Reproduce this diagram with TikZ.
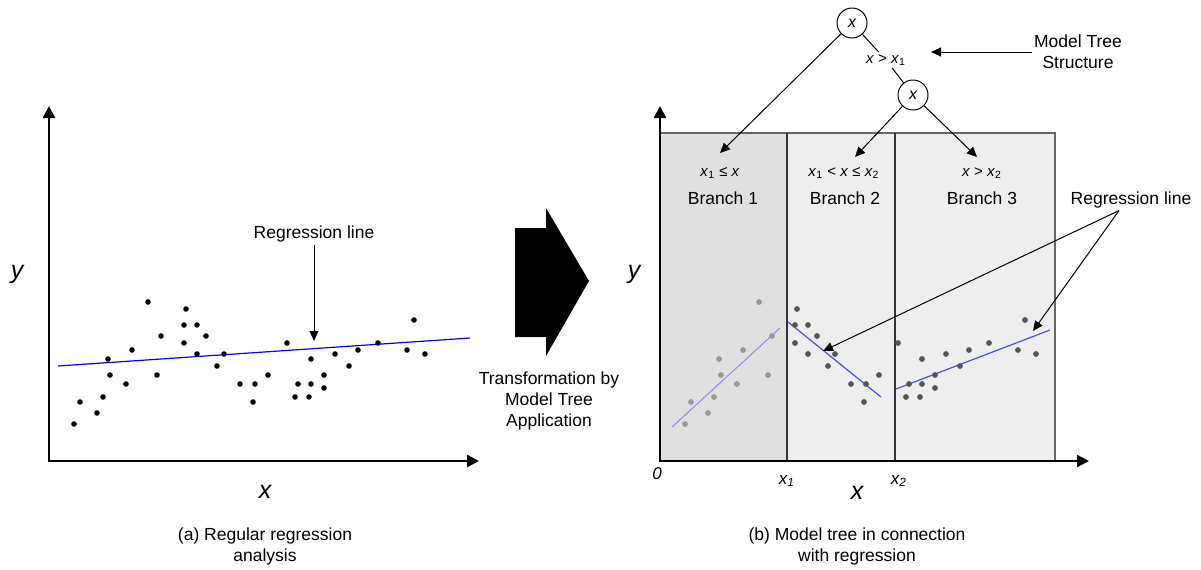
\documentclass[tikz,border=0pt]{standalone}
\usepackage{fontspec}
\setmainfont{Liberation Sans}
\usepackage{xcolor}
\usetikzlibrary{arrows.meta,positioning,calc}
\definecolor{shadeA}{HTML}{E0E0E0}
\definecolor{shadeB}{HTML}{EEEEEE}
\definecolor{ptlight}{HTML}{999999}
\definecolor{ptdark}{HTML}{555555}
\definecolor{lnlight}{HTML}{8C8CF2}
\definecolor{lndark}{HTML}{4D4DF0}
\newcommand{\vx}{\textit{x}}
% sample data (pixel coordinates of the left plot)
\newcommand{\datapts}{74/424, 80/402, 97/413, 103/397, 108/359, 110/375, 126/384, 132/350, 148/302, 157/375, 161/336,
  186/309, 184/325, 197/325, 206/336, 184/343, 197/354, 224/354, 217/366, 240/384, 255/384, 253/402, 268/375,
  287/343, 311/359, 298/384, 311/384, 295/397, 309/397, 324/375, 324/388, 335/354, 349/366, 358/350, 378/343, 414/320, 407/350, 425/354}

\begin{document}
\begin{tikzpicture}[x=0.5pt, y=-0.5pt,
    axis/.style={line width=1.2pt, -{Triangle[length=6pt, width=6pt]}},
    arr/.style={line width=0.5pt, -{Triangle[length=5pt, width=4.5pt]}},
    txt/.style={font=\fontsize{8.75}{10.5}\selectfont, align=center, inner sep=1pt},
    cond/.style={font=\fontsize{7.5}{9}\selectfont, inner sep=1pt},
    var/.style={font=\fontsize{12.5}{14}\selectfont\itshape, inner sep=0pt},
    tick/.style={font=\fontsize{8.5}{10}\selectfont\itshape, inner sep=0pt},
    tnode/.style={draw, circle, minimum size=15pt, inner sep=0pt, line width=0.5pt, font=\fontsize{8}{9}\selectfont\itshape},
]
    \useasboundingbox (0,0) rectangle (1201,569);

    % (a) Regular regression
    \draw[axis] (49,461) -- (49,106);
    \draw[axis] (48.4,461) -- (479,461);
    \draw[blue, line width=0.6pt] (58,366) -- (470,338);
    \foreach \px/\py in \datapts
        \fill (\px,\py) circle[radius=2.8];
    \node[var] (ya) at (17,274) {y};
    \node[var] (xa) at (265,492) {x};
    \node[txt] (rega) at (314,234) {Regression line};
    \coordinate (regatip) at (314,341);
    \draw[arr] (rega) -- (regatip);
    \node[txt] (capa) at (265,546) {(a) Regular regression\\analysis};

    % Transformation arrow
    \fill (515,228) -- (546,228) -- (546,208) -- (589,281) -- (546,356) -- (546,337) -- (515,337) -- cycle;
    \node[txt] (trf) at (549,401) {Transformation by\\Model Tree\\Application};

    % (b) Model tree: branch regions
    \fill[shadeA] (660,133) rectangle (787,461);
    \fill[shadeB] (787,133) rectangle (1055,461);
    \draw[black!60, line width=0.6pt] (660,133) -- (1055,133) -- (1055,461);
    \draw[black!80, line width=0.8pt] (787,133) -- (787,461);
    \draw[black!80, line width=0.8pt] (895,133) -- (895,461);
    \draw[axis] (660,461) -- (660,106);
    \draw[axis] (659.4,461) -- (1089,461);

    % Branch models
    \draw[lnlight, line width=0.5pt] (672,427) -- (780,328);
    \draw[lndark, line width=0.6pt] (788,322) -- (881,397);
    \draw[lndark, line width=0.6pt] (896,389) -- (1050,330);
    \foreach \px/\py in \datapts {
        \ifdim\px pt<176pt \def\ptcol{ptlight}\else\def\ptcol{ptdark}\fi
        \fill[\ptcol] (\px+611,\py) circle[radius=2.9];
    }

    % Tree
    \node[tnode] (root) at (852,23) {x};
    \node[cond] (split) at (886,60) {\vx{} > \vx\textsubscript{1}};
    \node[tnode] (sub) at (913,95) {x};
    \draw[line width=0.5pt] (root) -- (split);
    \draw[line width=0.5pt] (split) -- (sub);

    \node[cond] (c1) at (720,173) {\vx\textsubscript{1} ≤ \vx};
    \node[txt] (b1) at (723,198) {Branch 1};
    \node[cond] (c2) at (844,173) {\vx\textsubscript{1} < \vx{} ≤ \vx\textsubscript{2}};
    \node[txt] (b2) at (845,198) {Branch 2};
    \node[cond] (c3) at (982,173) {\vx{} > \vx\textsubscript{2}};
    \node[txt] (b3) at (982,198) {Branch 3};
    \coordinate (t1) at (720,153);
    \coordinate (t2) at (855,157);
    \coordinate (t3) at (977,157);
    \draw[arr] (root) -- (t1);
    \draw[arr] (sub) -- (t2);
    \draw[arr] (sub) -- (t3);

    \node[txt] (mts) at (1078,52) {Model Tree\\Structure};
    \coordinate (mtstip) at (931,52);
    \draw[arr] (mts) -- (mtstip);

    \node[txt] (regb) at (1131,200) {Regression line};
    \coordinate (regbsrc) at ([xshift=-6pt]regb.south);
    \coordinate (regbtip1) at (823,351);
    \coordinate (regbtip2) at (1033,331);
    \draw[arr] (regbsrc) -- (regbtip1);
    \draw[arr] (regbsrc) -- (regbtip2);

    % Axis labels
    \node[var] (yb) at (634,274) {y};
    \node[var] (xb) at (857,493) {x};
    \node[tick] (o) at (657,474) {0};
    \node[tick] (x1) at (787,481) {x\textsubscript{1}};
    \node[tick] (x2) at (899,481) {x\textsubscript{2}};
    \node[txt] (capb) at (857,546) {(b) Model tree in connection\\with regression};
\end{tikzpicture}
\end{document}
